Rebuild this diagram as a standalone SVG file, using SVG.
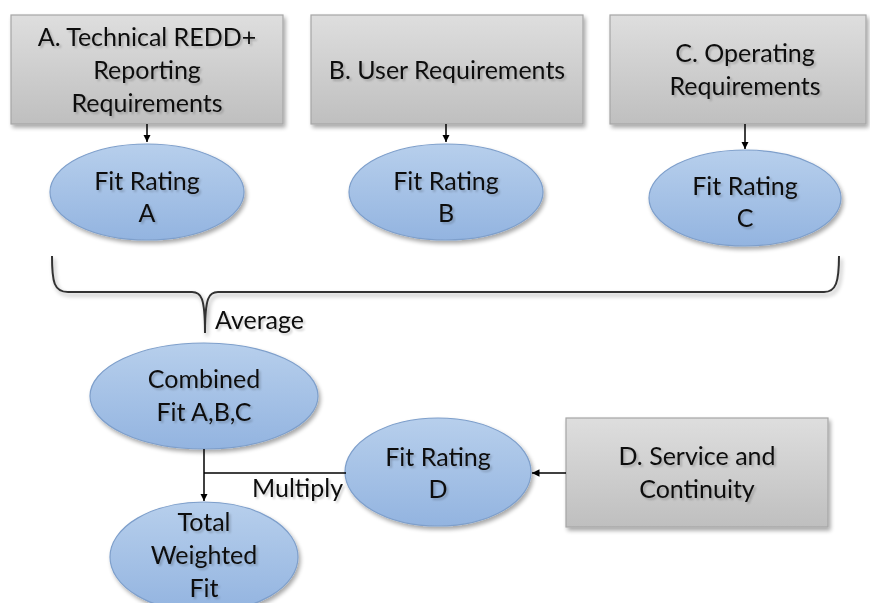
<svg xmlns="http://www.w3.org/2000/svg" width="870" height="603" viewBox="0 0 870 603">
  <defs>
    <linearGradient id="boxFill" x1="0" y1="0" x2="0" y2="1">
      <stop offset="0" stop-color="#dedede"/>
      <stop offset="1" stop-color="#bfbfbf"/>
    </linearGradient>
    <linearGradient id="ovalFill" x1="0" y1="0" x2="0" y2="1">
      <stop offset="0" stop-color="#b7cfec"/>
      <stop offset="1" stop-color="#93b4e0"/>
    </linearGradient>
    <filter id="shadow" x="-10%" y="-10%" width="125%" height="130%">
      <feGaussianBlur in="SourceAlpha" stdDeviation="2"/>
      <feOffset dx="2" dy="3" result="b"/>
      <feComponentTransfer><feFuncA type="linear" slope="0.35"/></feComponentTransfer>
      <feMerge><feMergeNode/><feMergeNode in="SourceGraphic"/></feMerge>
    </filter>
    <filter id="textShadow" x="-10%" y="-20%" width="120%" height="150%">
      <feGaussianBlur in="SourceAlpha" stdDeviation="1.2"/>
      <feOffset dx="1.5" dy="2"/>
      <feComponentTransfer><feFuncA type="linear" slope="0.2"/></feComponentTransfer>
      <feMerge><feMergeNode/><feMergeNode in="SourceGraphic"/></feMerge>
    </filter>
    <marker id="arrow" viewBox="0 0 10 10" refX="10" refY="5" markerWidth="5" markerHeight="5" orient="auto" markerUnits="strokeWidth">
      <path d="M0,0 L10,5 L0,10 z" fill="#000"/>
    </marker>
  </defs>
  <style>
    .box { fill: url(#boxFill); stroke: #a6a6a6; stroke-width: 1.2; filter: url(#shadow); }
    .oval { fill: url(#ovalFill); stroke: #7e9fcb; stroke-width: 1.2; filter: url(#shadow); }
    .lbl { font-family: Lato, "Liberation Sans", sans-serif; font-size: 25px; fill: #111; text-anchor: middle; filter: url(#textShadow); }
    .note { text-anchor: start; }
    .conn { fill: none; stroke: #000; stroke-width: 1.5; }
    .brace { fill: none; stroke: #333; stroke-width: 2; filter: url(#shadow); }
  </style>

  <rect width="870" height="603" fill="#fff"/>

  <!-- requirement boxes -->
  <g id="boxA">
    <rect class="box" x="11" y="15" width="272" height="109"/>
    <text class="lbl" x="147" y="46">A. Technical REDD+</text>
    <text class="lbl" x="147" y="79">Reporting</text>
    <text class="lbl" x="147" y="112">Requirements</text>
  </g>
  <g id="boxB">
    <rect class="box" x="311" y="15" width="272" height="109"/>
    <text class="lbl" x="447" y="79">B. User Requirements</text>
  </g>
  <g id="boxC">
    <rect class="box" x="610" y="15" width="256" height="109"/>
    <text class="lbl" x="745" y="62">C. Operating</text>
    <text class="lbl" x="745" y="95">Requirements</text>
  </g>

  <!-- fit ratings -->
  <g id="fitA">
    <ellipse class="oval" cx="147" cy="192" rx="97" ry="48"/>
    <text class="lbl" x="147" y="190">Fit Rating</text>
    <text class="lbl" x="147" y="222">A</text>
  </g>
  <g id="fitB">
    <ellipse class="oval" cx="446" cy="192" rx="97" ry="48"/>
    <text class="lbl" x="446" y="190">Fit Rating</text>
    <text class="lbl" x="446" y="222">B</text>
  </g>
  <g id="fitC">
    <ellipse class="oval" cx="745" cy="198" rx="96" ry="48"/>
    <text class="lbl" x="745" y="195">Fit Rating</text>
    <text class="lbl" x="745" y="227">C</text>
  </g>

  <g id="combined">
    <ellipse class="oval" cx="204" cy="396" rx="114" ry="53"/>
    <text class="lbl" x="204" y="388">Combined</text>
    <text class="lbl" x="204" y="421">Fit A,B,C</text>
  </g>

  <g id="fitD">
    <ellipse class="oval" cx="438" cy="472" rx="93" ry="54"/>
    <text class="lbl" x="438" y="466">Fit Rating</text>
    <text class="lbl" x="438" y="498">D</text>
  </g>

  <g id="boxD">
    <rect class="box" x="566" y="418" width="262" height="109"/>
    <text class="lbl" x="697" y="465">D. Service and</text>
    <text class="lbl" x="697" y="498">Continuity</text>
  </g>

  <g id="total">
    <ellipse class="oval" cx="204" cy="557" rx="94" ry="55"/>
    <text class="lbl" x="204" y="531">Total</text>
    <text class="lbl" x="204" y="564">Weighted</text>
    <text class="lbl" x="204" y="597">Fit</text>
  </g>

  <!-- connectors -->
  <g id="connectors">
    <line class="conn" x1="147" y1="124" x2="147" y2="142" marker-end="url(#arrow)"/>
    <line class="conn" x1="446" y1="124" x2="446" y2="142" marker-end="url(#arrow)"/>
    <line class="conn" x1="745" y1="124" x2="745" y2="149" marker-end="url(#arrow)"/>
    <path class="brace" d="M52 256 C52 282 54 292 68 292 L192 292 C201 292 205 297 205 333 C205 297 209 292 218 292 L824 292 C836 292 839 282 839 256"/>
    <line class="conn" x1="204" y1="449" x2="204" y2="501" marker-end="url(#arrow)"/>
    <line class="conn" x1="204" y1="473" x2="346" y2="473"/>
    <line class="conn" x1="566" y1="473" x2="532" y2="473" marker-end="url(#arrow)"/>
    <text class="lbl note" x="215" y="329">Average</text>
    <text class="lbl note" x="252" y="497">Multiply</text>
  </g>
</svg>
